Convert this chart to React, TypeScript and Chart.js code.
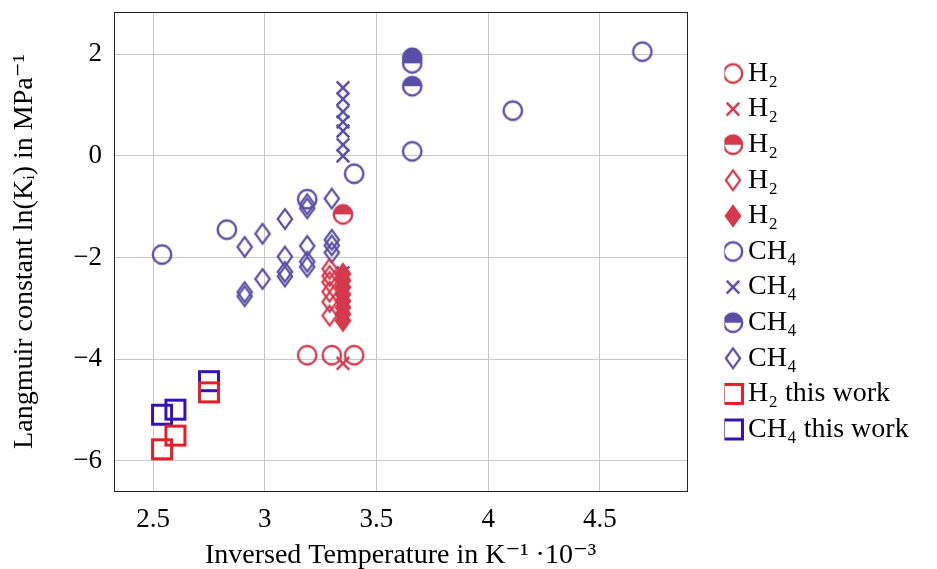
import React, { useEffect, useRef } from 'react';
import { Chart, registerables } from 'chart.js';

Chart.register(...registerables);

// ---- tick labels ----
const xTicks = [2.5, 3, 3.5, 4, 4.5];
const yTicks = [-6, -4, -2, 0, 2];

// ---- series (x = inverse temperature in 1e-3/K, y = ln(K)) ----
const h2CircleX = [3.19, 3.30, 3.40];
const h2CircleY = [-3.92, -3.92, -3.92];

const h2CrossX = [3.35];
const h2CrossY = [-4.08];

const h2HalfX = [3.35];
const h2HalfY = [-1.15];

const h2DiamondX = [3.29, 3.29, 3.29, 3.29, 3.29, 3.29];
const h2DiamondY = [-2.22, -2.36, -2.48, -2.67, -2.87, -3.14];

const h2DiamondFillX = [3.35, 3.35, 3.35, 3.35, 3.35, 3.35, 3.35, 3.35];
const h2DiamondFillY = [-2.32, -2.45, -2.58, -2.72, -2.85, -2.98, -3.11, -3.24];

const ch4CircleX = [2.54, 2.83, 3.19, 3.40, 3.66, 4.11, 4.69];
const ch4CircleY = [-1.94, -1.45, -0.85, -0.35, 0.09, 0.89, 2.05];

const ch4CrossX = [3.35, 3.35, 3.35, 3.35, 3.35, 3.35, 3.35, 3.35];
const ch4CrossY = [1.34, 1.12, 0.87, 0.67, 0.49, 0.22, 0.0, -2.30];

const ch4HalfX = [3.66, 3.66, 3.66];
const ch4HalfY = [1.93, 1.82, 1.37];

const ch4DiamondX = [2.91, 2.99, 3.09, 3.19, 3.30, 3.19, 2.91, 2.91, 2.99, 3.09, 3.09, 3.09, 3.19, 3.19, 3.19, 3.30, 3.30, 3.30];
const ch4DiamondY = [-1.79, -1.53, -1.24, -1.03, -0.84, -0.95, -2.68, -2.76, -2.42, -1.98, -2.28, -2.37, -1.77, -2.08, -2.18, -1.65, -1.76, -1.90];

const h2WorkX = [2.54, 2.60, 2.75];
const h2WorkY = [-5.77, -5.50, -4.65];

const ch4WorkX = [2.54, 2.60, 2.75];
const ch4WorkY = [-5.09, -4.99, -4.43];

const labels = ['H₂', 'H₂', 'H₂', 'H₂', 'H₂', 'CH₄', 'CH₄', 'CH₄', 'CH₄', 'H₂ this work', 'CH₄ this work'];

const RED = '#d5394c';
const PURPLE = '#5a4ea7';
const RED2 = '#e51f27';
const BLUE2 = '#3512b6';

const FONT = "'Liberation Serif', 'DejaVu Serif', serif";

function zip(xs: number[], ys: number[]) {
  return xs.map((x, i) => ({ x, y: ys[i] }));
}

function makeCanvas(w: number, h: number, draw: (ctx: CanvasRenderingContext2D, cx: number, cy: number) => void) {
  const c = document.createElement('canvas');
  c.width = w;
  c.height = h;
  const ctx = c.getContext('2d')!;
  draw(ctx, w / 2, h / 2);
  return c;
}

function circleMark(color: string, half: boolean) {
  return makeCanvas(26, 26, (ctx, cx, cy) => {
    const r = 9.2;
    ctx.lineWidth = 2.4;
    if (half) {
      ctx.beginPath();
      ctx.arc(cx, cy, r, Math.PI, 2 * Math.PI);
      ctx.closePath();
      ctx.fillStyle = color;
      ctx.fill();
      ctx.beginPath();
      ctx.arc(cx, cy, r, 0, Math.PI);
      ctx.closePath();
      ctx.fillStyle = '#ffffff';
      ctx.fill();
    }
    ctx.beginPath();
    ctx.arc(cx, cy, r, 0, 2 * Math.PI);
    ctx.strokeStyle = color;
    ctx.stroke();
  });
}

function crossMark(color: string) {
  return makeCanvas(20, 20, (ctx, cx, cy) => {
    const d = 6.3;
    ctx.lineWidth = 2.5;
    ctx.strokeStyle = color;
    ctx.beginPath();
    ctx.moveTo(cx - d, cy - d);
    ctx.lineTo(cx + d, cy + d);
    ctx.moveTo(cx - d, cy + d);
    ctx.lineTo(cx + d, cy - d);
    ctx.stroke();
  });
}

function diamondMark(color: string, filled: boolean) {
  return makeCanvas(22, 26, (ctx, cx, cy) => {
    const hw = 7.2;
    const hh = 9.8;
    ctx.lineWidth = 2.2;
    ctx.lineJoin = 'miter';
    ctx.beginPath();
    ctx.moveTo(cx, cy - hh);
    ctx.lineTo(cx + hw, cy);
    ctx.lineTo(cx, cy + hh);
    ctx.lineTo(cx - hw, cy);
    ctx.closePath();
    if (filled) {
      ctx.fillStyle = color;
      ctx.fill();
    }
    ctx.strokeStyle = color;
    ctx.stroke();
  });
}

function squareMark(color: string) {
  return makeCanvas(26, 26, (ctx, cx, cy) => {
    const h = 9.5;
    ctx.lineWidth = 3;
    ctx.strokeStyle = color;
    ctx.strokeRect(cx - h, cy - h, 2 * h, 2 * h);
  });
}

export default function App() {
  const ref = useRef<HTMLCanvasElement>(null);

  useEffect(() => {
    document.body.style.margin = '0';
    const canvas = ref.current!;
    const W = 937;
    const H = 569;

    const legendFontSize = 28;
    const legendPad = 7.6;
    const legendBoxW = 2;
    const mctx = document.createElement('canvas').getContext('2d')!;
    mctx.font = `${legendFontSize}px ${FONT}`;
    const maxText = Math.max(...labels.map((l) => mctx.measureText(l).width));
    const legendW = legendBoxW + legendFontSize / 2 + maxText + 10 + legendPad;
    const chartRight = 687;
    const spacer = 37.4;
    const padRight = Math.max(0, W - chartRight - spacer - legendW);

    const marks = [
      circleMark(RED, false),
      crossMark(RED),
      circleMark(RED, true),
      diamondMark(RED, false),
      diamondMark(RED, true),
      circleMark(PURPLE, false),
      crossMark(PURPLE),
      circleMark(PURPLE, true),
      diamondMark(PURPLE, false),
      squareMark(RED2),
      squareMark(BLUE2),
    ];
    const series = [
      zip(h2CircleX, h2CircleY),
      zip(h2CrossX, h2CrossY),
      zip(h2HalfX, h2HalfY),
      zip(h2DiamondX, h2DiamondY),
      zip(h2DiamondFillX, h2DiamondFillY),
      zip(ch4CircleX, ch4CircleY),
      zip(ch4CrossX, ch4CrossY),
      zip(ch4HalfX, ch4HalfY),
      zip(ch4DiamondX, ch4DiamondY),
      zip(h2WorkX, h2WorkY),
      zip(ch4WorkX, ch4WorkY),
    ];

    const datasets = series.map((data, i) => ({
      label: labels[i],
      data,
      pointStyle: marks[i] as any,
      pointRadius: 10,
      pointHoverRadius: 10,
      showLine: false,
      xAxisID: 'x',
      yAxisID: 'y',
    }));

    const tickFont = { family: FONT, size: 27 };
    const titleFont = { family: FONT, size: 28 };

    const chart = new Chart(canvas, {
      type: 'scatter',
      data: { datasets },
      options: {
        animation: false,
        responsive: false,
        events: [],
        layout: { padding: { left: 0, top: 0, bottom: 0, right: padRight } },
        plugins: {
          tooltip: { enabled: false },
          legend: {
            position: 'right',
            fullSize: false,
            maxWidth: 600,
            labels: {
              usePointStyle: true,
              boxWidth: legendBoxW,
              boxHeight: legendBoxW,
              padding: legendPad,
              color: '#000',
              font: { family: FONT, size: legendFontSize },
            },
          },
        },
        scales: {
          x: {
            type: 'linear',
            position: 'bottom',
            min: 2.325,
            max: 4.89,
            afterBuildTicks: (s: any) => {
              s.ticks = xTicks.map((v) => ({ value: v }));
            },
            afterFit: (s: any) => {
              s.height = H - 491;
              s.paddingLeft = 0;
              s.paddingRight = 0;
            },
            ticks: {
              color: '#000',
              font: tickFont,
              padding: 13,
              maxRotation: 0,
              callback: (v: any) => String(v),
            },
            grid: { color: '#c8c8c8', drawTicks: false, lineWidth: 1 },
            border: { display: true, color: '#222', width: 1 },
            title: {
              display: true,
              text: 'Inversed Temperature in K⁻¹ ·10⁻³',
              color: '#000',
              font: titleFont,
              padding: { top: 0, bottom: -3 },
            },
          },
          y: {
            type: 'linear',
            position: 'left',
            min: -6.59,
            max: 2.83,
            afterBuildTicks: (s: any) => {
              s.ticks = yTicks.map((v) => ({ value: v }));
            },
            afterFit: (s: any) => {
              s.width = 114;
              s.paddingTop = 0;
              s.paddingBottom = 0;
            },
            ticks: {
              color: '#000',
              font: tickFont,
              padding: 12,
              callback: (v: any) => String(v).replace('-', '−'),
            },
            grid: { color: '#c8c8c8', drawTicks: false, lineWidth: 1 },
            border: { display: true, color: '#222', width: 1 },
            title: {
              display: true,
              text: 'Langmuir constant ln(Kᵢ) in MPa⁻¹',
              color: '#000',
              font: titleFont,
              padding: { top: 8, bottom: 0 },
            },
          },
          x2: {
            type: 'linear',
            position: 'top',
            min: 0,
            max: 1,
            afterFit: (s: any) => {
              s.height = 12;
              s.paddingLeft = 0;
              s.paddingRight = 0;
            },
            ticks: { display: false },
            grid: { display: false, drawTicks: false },
            border: { display: true, color: '#222', width: 1 },
          },
          y2: {
            type: 'linear',
            position: 'right',
            min: 0,
            max: 1,
            afterFit: (s: any) => {
              s.width = spacer;
              s.paddingTop = 0;
              s.paddingBottom = 0;
            },
            ticks: { display: false },
            grid: { display: false, drawTicks: false },
            border: { display: true, color: '#222', width: 1 },
          },
        },
      },
    });

    return () => {
      chart.destroy();
    };
  }, []);

  return (
    <div style={{ width: 937, height: 569 }}>
      <canvas ref={ref} width={937} height={569} style={{ display: 'block' }} />
    </div>
  );
}
